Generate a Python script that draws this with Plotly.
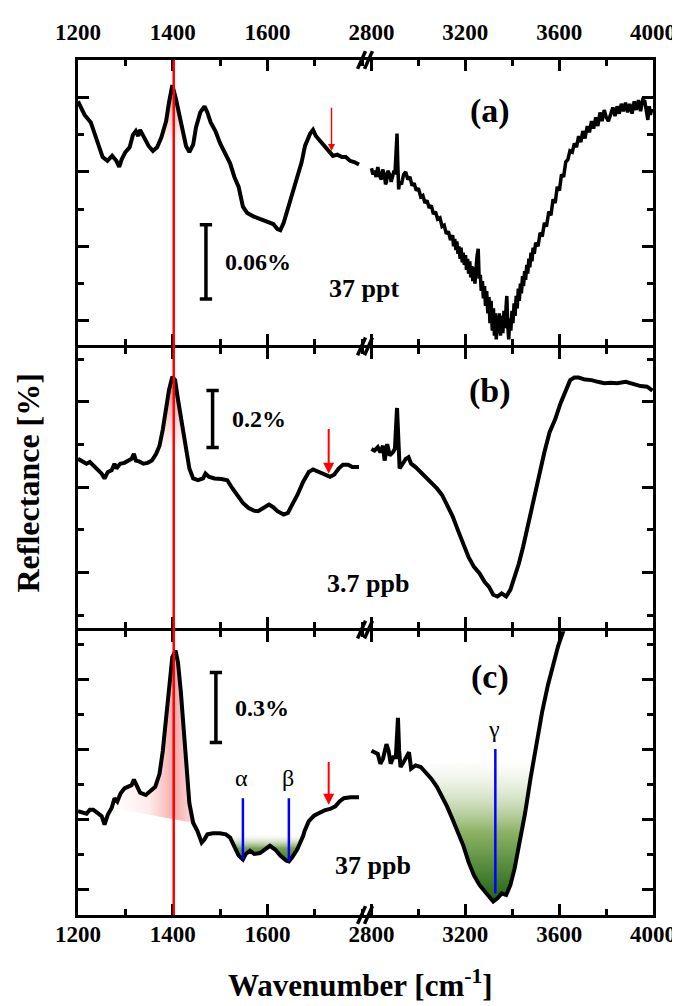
import plotly.graph_objects as go

# ---------------- data (wavenumber in cm-1, relative reflectance in %) ----------------
a_left_wn = [1200, 1214, 1227, 1236, 1245, 1252, 1262, 1272, 1281, 1287, 1292, 1300, 1309, 1316, 1322, 1327,
             1331, 1340, 1349, 1358, 1367, 1376, 1386, 1392, 1399, 1406, 1413, 1422, 1428, 1435, 1443, 1449,
             1458, 1467, 1473, 1480, 1490, 1500, 1512, 1521, 1530, 1539, 1548, 1557, 1571, 1585, 1598, 1612,
             1621, 1627, 1634, 1643, 1652, 1663, 1672, 1679, 1684, 1690, 1696, 1702, 1711, 1720, 1729, 1738,
             1747, 1757, 1765, 1774, 1783, 1793]
a_left_r = [0.177, 0.166, 0.160, 0.150, 0.139, 0.132, 0.129, 0.133, 0.129, 0.124, 0.130, 0.136, 0.140, 0.150,
            0.153, 0.149, 0.154, 0.148, 0.141, 0.137, 0.140, 0.148, 0.161, 0.176, 0.190, 0.180, 0.168, 0.153,
            0.141, 0.136, 0.142, 0.156, 0.168, 0.173, 0.168, 0.160, 0.153, 0.143, 0.133, 0.127, 0.116, 0.108,
            0.092, 0.087, 0.084, 0.082, 0.080, 0.078, 0.074, 0.073, 0.079, 0.090, 0.103, 0.116, 0.128, 0.141,
            0.146, 0.151, 0.154, 0.149, 0.145, 0.141, 0.136, 0.133, 0.134, 0.132, 0.132, 0.129, 0.128, 0.126]

a_right_wn = [2800, 2806, 2813, 2820, 2827, 2834, 2842, 2848, 2855, 2860,
              2864, 2870, 2878, 2884, 2891, 2896, 2900, 2905, 2909, 2912,
              2916, 2920, 2928, 2937, 2946, 2955, 2964, 2973, 2982, 2991,
              3000, 3010, 3019, 3028, 3037, 3046, 3055, 3064, 3073, 3082,
              3092, 3101, 3110, 3119, 3128, 3137, 3146, 3150, 3155, 3160,
              3164, 3169, 3173, 3178, 3182, 3187, 3191, 3196, 3201, 3205,
              3210, 3214, 3219, 3223, 3228, 3232, 3237, 3241, 3245, 3250,
              3255, 3259, 3264, 3268, 3273, 3277, 3282, 3286, 3291, 3296,
              3301, 3305, 3310, 3315, 3320, 3324, 3328, 3332, 3336, 3341,
              3345, 3350, 3355, 3360, 3365, 3370, 3374, 3377, 3381, 3385,
              3390, 3394, 3399, 3403, 3408, 3412, 3417, 3421, 3426, 3430,
              3435, 3439, 3444, 3448, 3453, 3457, 3462, 3466, 3471, 3475,
              3480, 3484, 3489, 3494, 3500, 3510, 3519, 3528, 3537, 3546,
              3556, 3565, 3574, 3583, 3592, 3601, 3610, 3619, 3628, 3637,
              3646, 3656, 3665, 3674, 3683, 3692, 3701, 3710, 3720, 3729,
              3738, 3747, 3756, 3765, 3774, 3783, 3792, 3801, 3810, 3820,
              3829, 3838, 3847, 3856, 3865, 3874, 3883, 3892, 3901, 3911,
              3920, 3929, 3938, 3947, 3956, 3965, 3972, 3978, 3984, 3989,
              3995]
a_right_r = [0.123, 0.118, 0.121, 0.116, 0.124, 0.117, 0.114, 0.122, 0.118, 0.110,
             0.112, 0.121, 0.118, 0.112, 0.117, 0.121, 0.118, 0.135, 0.151, 0.128,
             0.106, 0.112, 0.110, 0.118, 0.120, 0.114, 0.116, 0.109, 0.111, 0.105,
             0.107, 0.100, 0.101, 0.095, 0.097, 0.091, 0.093, 0.086, 0.088, 0.082,
             0.083, 0.076, 0.077, 0.070, 0.072, 0.065, 0.069, 0.060, 0.066, 0.057,
             0.064, 0.054, 0.060, 0.050, 0.059, 0.047, 0.055, 0.045, 0.053, 0.041,
             0.050, 0.038, 0.048, 0.035, 0.044, 0.032, 0.043, 0.030, 0.041, 0.052,
             0.058, 0.034, 0.037, 0.024, 0.032, 0.018, 0.028, 0.012, 0.024, 0.006,
             0.019, -0.002, 0.016, -0.008, 0.010, -0.012, 0.006, -0.015, 0.004, -0.010,
             0.006, -0.012, 0.004, -0.010, 0.008, -0.006, 0.012, 0.020, -0.004, -0.015,
             0.002, -0.008, 0.008, -0.002, 0.014, 0.004, 0.020, 0.010, 0.026, 0.016,
             0.030, 0.022, 0.036, 0.028, 0.040, 0.033, 0.045, 0.038, 0.050, 0.043,
             0.055, 0.048, 0.059, 0.054, 0.063, 0.060, 0.071, 0.068, 0.079, 0.076,
             0.088, 0.085, 0.098, 0.095, 0.108, 0.105, 0.118, 0.116, 0.128, 0.130,
             0.137, 0.136, 0.143, 0.140, 0.149, 0.144, 0.153, 0.147, 0.157, 0.152,
             0.161, 0.155, 0.164, 0.157, 0.168, 0.161, 0.170, 0.164, 0.161, 0.167,
             0.172, 0.165, 0.173, 0.167, 0.175, 0.169, 0.176, 0.168, 0.175, 0.167,
             0.177, 0.170, 0.178, 0.169, 0.178, 0.177, 0.168, 0.162, 0.173, 0.166,
             0.171]

b_left_wn = [1200, 1209, 1218, 1225, 1232, 1241, 1250, 1256, 1263, 1271, 1277, 1281, 1289, 1298, 1307, 1313,
             1318, 1322, 1329, 1338, 1347, 1356, 1365, 1372, 1379, 1386, 1392, 1399, 1405, 1410, 1417, 1425,
             1430, 1435, 1443, 1453, 1464, 1469, 1476, 1488, 1503, 1515, 1526, 1537, 1548, 1560, 1571, 1580,
             1591, 1603, 1612, 1621, 1634, 1643, 1652, 1663, 1675, 1687, 1696, 1706, 1720, 1732, 1741, 1750,
             1759, 1770, 1779, 1793]
b_left_r = [0.400, 0.391, 0.383, 0.389, 0.377, 0.366, 0.348, 0.331, 0.354, 0.360, 0.383, 0.366, 0.383, 0.386,
            0.394, 0.400, 0.418, 0.394, 0.391, 0.383, 0.386, 0.394, 0.418, 0.446, 0.504, 0.573, 0.642, 0.689,
            0.677, 0.619, 0.550, 0.481, 0.429, 0.366, 0.331, 0.325, 0.331, 0.348, 0.337, 0.331, 0.329, 0.325,
            0.296, 0.273, 0.245, 0.227, 0.218, 0.216, 0.227, 0.239, 0.230, 0.216, 0.204, 0.210, 0.239, 0.273,
            0.319, 0.354, 0.363, 0.356, 0.345, 0.337, 0.345, 0.366, 0.379, 0.379, 0.371, 0.371]

b_right_wn = [2800, 2813, 2827, 2838, 2849, 2856, 2867, 2878, 2891, 2900, 2909, 2915, 2920, 2933, 2946, 2958,
              2969, 2988, 3010, 3031, 3055, 3079, 3101, 3122, 3146, 3170, 3192, 3214, 3237, 3261, 3282, 3301,
              3319, 3337, 3355, 3374, 3392, 3410, 3428, 3446, 3468, 3492, 3516, 3537, 3559, 3583, 3606, 3628,
              3647, 3665, 3683, 3710, 3738, 3765, 3792, 3820, 3847, 3884, 3920, 3947, 3975, 3989, 3998]
b_right_r = [0.435, 0.429, 0.441, 0.423, 0.446, 0.394, 0.452, 0.412, 0.423, 0.435, 0.579, 0.481, 0.366, 0.383,
             0.400, 0.406, 0.383, 0.371, 0.354, 0.337, 0.319, 0.296, 0.273, 0.239, 0.198, 0.146, 0.100, 0.054,
             0.020, -0.003, -0.032, -0.050, -0.078, -0.084, -0.073, -0.084, -0.061, -0.015, 0.031, 0.089,
             0.170, 0.262, 0.354, 0.423, 0.493, 0.539, 0.596, 0.642, 0.677, 0.686, 0.686, 0.679, 0.677, 0.671,
             0.666, 0.668, 0.666, 0.671, 0.663, 0.656, 0.654, 0.645, 0.640]

c_left_wn = [1200, 1211, 1218, 1225, 1232, 1241, 1250, 1256, 1263, 1271, 1277, 1283, 1290, 1298, 1307, 1313,
             1318, 1323, 1331, 1343, 1352, 1363, 1372, 1379, 1386, 1393, 1399, 1406, 1411, 1417, 1424, 1430,
             1435, 1443, 1452, 1461, 1467, 1473, 1485, 1499, 1512, 1521, 1530, 1539, 1548, 1554, 1563, 1572,
             1584, 1596, 1605, 1616, 1627, 1639, 1645, 1652, 1663, 1675, 1678, 1687, 1698, 1709, 1720, 1732,
             1743, 1752, 1761, 1775, 1793]
c_left_r = [0.335, 0.328, 0.325, 0.342, 0.342, 0.328, 0.314, 0.278, 0.321, 0.349, 0.391, 0.377, 0.412, 0.433,
            0.440, 0.447, 0.471, 0.447, 0.415, 0.405, 0.419, 0.440, 0.496, 0.595, 0.736, 0.876, 0.996, 1.024,
            0.973, 0.848, 0.665, 0.496, 0.370, 0.286, 0.250, 0.201, 0.215, 0.236, 0.241, 0.241, 0.236, 0.222,
            0.187, 0.145, 0.128, 0.152, 0.166, 0.152, 0.156, 0.176, 0.187, 0.171, 0.145, 0.124, 0.120, 0.138,
            0.173, 0.229, 0.250, 0.293, 0.316, 0.328, 0.339, 0.345, 0.356, 0.377, 0.391, 0.395, 0.395]

c_right_wn = [2800, 2813, 2827, 2838, 2849, 2864, 2873, 2882, 2893, 2904, 2913, 2918, 2924, 2937, 2951, 2960,
              2969, 2988, 3010, 3031, 3055, 3079, 3101, 3122, 3146, 3170, 3192, 3214, 3237, 3261, 3282, 3301,
              3319, 3337, 3355, 3374, 3392, 3410, 3432, 3455, 3479, 3494, 3505, 3528, 3552, 3574, 3596, 3620,
              3635]
c_right_r = [0.595, 0.588, 0.581, 0.539, 0.560, 0.623, 0.595, 0.539, 0.567, 0.567, 0.736, 0.595, 0.525, 0.546,
             0.567, 0.588, 0.518, 0.532, 0.525, 0.504, 0.475, 0.440, 0.398, 0.356, 0.300, 0.243, 0.187, 0.117,
             0.060, 0.018, -0.007, -0.024, -0.052, -0.038, -0.017, -0.024, 0.018, 0.089, 0.201, 0.328, 0.482,
             0.571, 0.637, 0.764, 0.876, 0.961, 1.045, 1.115, 1.16]

panel_tags = ["(a)", "(b)", "(c)"]
concentrations = ["37 ppt", "3.7 ppb", "37 ppb"]
scalebar_wn = [1470, 1484, 1491]
scalebar_lo = [0.0175, 0.44, 0.63]
scalebar_hi = [0.0775, 0.64, 0.93]
scalebar_labels = ["0.06%", "0.2%", "0.3%"]
arrow_wn = [1735, 1729, 1729]
arrow_tail = [0.173, 0.510, 0.553]
arrow_head = [0.137, 0.348, 0.363]
mode_labels = ["α", "β", "γ"]
mode_wn = [1548, 1645, 3328]
mode_top = [0.391, 0.391, 0.602]
mode_bottom = [0.128, 0.120, -0.017]
reference_line_wn = 1402

left_ticks = [1200, 1400, 1600]
right_ticks = [2800, 3200, 3600, 4000]

# ---------------- layout geometry ----------------
W, H = 680, 1006
ML, MR, MT, MB = 70, 30, 38, 99
PH = H - MT - MB
FONT = "Liberation Serif"

y_domains = [[0.66686, 1.0], [0.33544, 0.66341], [0.0, 0.33199]]
y_ranges = [[-0.01944, 0.21032], [-0.19550, 0.79066], [-0.10970, 1.10759]]
y_major = [0.06, 0.3, 0.3]
x_left_range = [1200, 1806.7]
x_right_range = [2774.6, 4000]

left_data = [(a_left_wn, a_left_r), (b_left_wn, b_left_r), (c_left_wn, c_left_r)]
right_data = [(a_right_wn, a_right_r), (b_right_wn, b_right_r), (c_right_wn, c_right_r)]

fig = go.Figure()


def ax_names(p):
    xl = "x" if p == 0 else f"x{2 * p + 1}"
    xr = f"x{2 * p + 2}"
    yl = "y" if p == 0 else f"y{2 * p + 1}"
    yr = f"y{2 * p + 2}"
    return xl, xr, yl, yr


def seg(wn, r, lo, hi):
    pts = [(w, v) for w, v in zip(wn, r) if lo <= w <= hi]
    return [q[0] for q in pts], [q[1] for q in pts]


tickfont = dict(family=FONT, size=23, color="black", weight="bold")

for p in range(3):
    xl, xr, yl, yr = ax_names(p)
    # ---- fills ----
    wn, r = left_data[p]
    if p < 2:
        fx, fy = seg(wn, r, 1365 if p else 1376, 1430)
        fig.add_trace(go.Scatter(x=fx, y=fy, xaxis=xl, yaxis=yl, mode="lines", fill="toself",
                                 line=dict(width=0), hoverinfo="skip",
                                 fillgradient=dict(type="vertical",
                                                   colorscale=[[0, "rgba(255,215,215,0.1)"],
                                                               [0.5, "rgba(248,150,150,0.5)"],
                                                               [1, "rgba(235,70,70,0.8)"]])))
    else:
        fx, fy = seg(wn, r, 1271, 1443)
        fig.add_trace(go.Scatter(x=fx, y=fy, xaxis=xl, yaxis=yl, mode="lines", fill="toself",
                                 line=dict(width=0), hoverinfo="skip",
                                 fillgradient=dict(type="horizontal", start=1268, stop=1445,
                                                   colorscale=[[0, "rgba(255,225,225,0)"],
                                                               [0.45, "rgba(252,215,215,0.5)"],
                                                               [0.75, "rgba(242,130,130,0.7)"],
                                                               [1, "rgba(248,185,185,0.5)"]])))
        gx, gy = seg(wn, r, 1499, 1678)
        fig.add_trace(go.Scatter(x=gx, y=gy, xaxis=xl, yaxis=yl, mode="lines", fill="toself",
                                 line=dict(width=0), hoverinfo="skip",
                                 fillgradient=dict(type="vertical", start=0.12, stop=0.25,
                                                   colorscale=[[0, "rgb(40,105,25)"],
                                                               [0.55, "rgb(120,160,85)"],
                                                               [1, "rgba(255,255,255,0.2)"]])))
        wr, rr = right_data[p]
        gx, gy = seg(wr, rr, 2988, 3494)
        fig.add_trace(go.Scatter(x=gx, y=gy, xaxis=xr, yaxis=yr, mode="lines", fill="toself",
                                 line=dict(width=0), hoverinfo="skip",
                                 fillgradient=dict(type="vertical", start=-0.05, stop=0.57,
                                                   colorscale=[[0, "rgb(25,95,15)"],
                                                               [0.5, "rgb(140,178,100)"],
                                                               [1, "rgba(255,255,255,0.3)"]])))
    # ---- spectra ----
    fig.add_trace(go.Scatter(x=wn, y=r, xaxis=xl, yaxis=yl, mode="lines",
                             line=dict(color="black", width=4)))
    wr, rr = right_data[p]
    fig.add_trace(go.Scatter(x=wr, y=rr, xaxis=xr, yaxis=yr, mode="lines",
                             line=dict(color="black", width=3.5 if p == 0 else 4)))
    # ---- scale bar ----
    sw, lo, hi = scalebar_wn[p], scalebar_lo[p], scalebar_hi[p]
    fig.add_trace(go.Scatter(x=[sw - 13, sw + 13, None, sw, sw, None, sw - 13, sw + 13],
                             y=[lo, lo, None, lo, hi, None, hi, hi], xaxis=xl, yaxis=yl, mode="lines",
                             line=dict(color="black", width=3.5)))
    fig.add_annotation(x=sw + 36, y=(lo + hi) / 2, xref=xl, yref=yl, text=scalebar_labels[p],
                       showarrow=False, xanchor="left", yanchor="middle",
                       font=dict(family=FONT, size=24, color="black", weight="bold"))
    # ---- panel tag ----
    tag_y = [0.169, 0.637, 0.911][p]
    fig.add_annotation(x=3305, y=tag_y, xref=xr, yref=yr, text=panel_tags[p], showarrow=False,
                       xanchor="center", yanchor="middle",
                       font=dict(family=FONT, size=34, color="black", weight="bold"))
    # ---- concentration ----
    if p == 0:
        fig.add_annotation(x=1804, y=0.026, xref=xl, yref=yl, text=concentrations[p], showarrow=False,
                           xanchor="center", yanchor="middle",
                           font=dict(family=FONT, size=26, color="black", weight="bold"))
    else:
        cx, cy = [(2787, -0.038), (2808, 0.101)][p - 1]
        fig.add_annotation(x=cx, y=cy, xref=xr, yref=yr, text=concentrations[p], showarrow=False,
                           xanchor="center", yanchor="middle",
                           font=dict(family=FONT, size=26, color="black", weight="bold"))
    # ---- red arrow ----
    fig.add_annotation(x=arrow_wn[p], y=arrow_head[p], ax=arrow_wn[p], ay=arrow_tail[p],
                       xref=xl, yref=yl, axref=xl, ayref=yl, text="", showarrow=True,
                       arrowhead=2, arrowsize=1.0 if p == 0 else 1.1, arrowwidth=1.4 if p == 0 else 2,
                       arrowcolor="red")

    # ---- axes ----
    dom_y = y_domains[p]
    side = "top" if p == 0 else "bottom"
    show_lab = p != 1
    common_x = dict(showline=True, linecolor="black", linewidth=3, mirror="ticks", ticks="inside",
                    ticklen=11, tickwidth=3, tickcolor="black", showgrid=False, zeroline=False,
                    side=side, showticklabels=show_lab, tickfont=tickfont,
                    ticklabelstandoff=8 if p == 0 else -4)
    fig.update_layout(**{
        ("xaxis" if p == 0 else f"xaxis{2 * p + 1}"): dict(
            common_x, domain=[0, 0.5], range=x_left_range, anchor=yl, tickvals=left_ticks,
            minor=dict(ticks="inside", ticklen=6, tickwidth=3, tickcolor="black", dtick=100, tick0=1200)),
        f"xaxis{2 * p + 2}": dict(
            common_x, domain=[0.5, 1], range=x_right_range, anchor=yr, tickvals=right_ticks,
            minor=dict(ticks="inside", ticklen=6, tickwidth=3, tickcolor="black", dtick=200, tick0=2800)),
        ("yaxis" if p == 0 else f"yaxis{2 * p + 1}"): dict(
            domain=dom_y, range=y_ranges[p], anchor=xl, side="left", showline=True, linecolor="black",
            linewidth=3, ticks="inside", ticklen=11, tickwidth=3, tickcolor="black", tick0=0,
            dtick=y_major[p], showticklabels=False, showgrid=False, zeroline=False,
            minor=dict(ticks="inside", ticklen=6, tickwidth=3, tickcolor="black", dtick=y_major[p] / 2)),
        f"yaxis{2 * p + 2}": dict(
            domain=dom_y, range=y_ranges[p], anchor=xr, side="right", showline=True, linecolor="black",
            linewidth=3, ticks="inside", ticklen=11, tickwidth=3, tickcolor="black", tick0=0,
            dtick=y_major[p], showticklabels=False, showgrid=False, zeroline=False,
            minor=dict(ticks="inside", ticklen=6, tickwidth=3, tickcolor="black", dtick=y_major[p] / 2)),
    })

# ---- blue mode markers (panel c) ----
for i in range(3):
    xa = "x5" if i < 2 else "x6"
    ya = "y5" if i < 2 else "y6"
    fig.add_trace(go.Scatter(x=[mode_wn[i], mode_wn[i]], y=[mode_bottom[i], mode_top[i]], xaxis=xa,
                             yaxis=ya, mode="lines", line=dict(color="#0000ff", width=2.5)))
    fig.add_annotation(x=mode_wn[i] - (2 if i < 2 else 6), y=mode_top[i] + (0.085 if i < 2 else 0.086),
                       xref=xa, yref=ya, text=mode_labels[i], showarrow=False,
                       xanchor="center", yanchor="middle",
                       font=dict(family=FONT, size=24, color="black"))

# ---- red reference line across all panels ----
fig.add_shape(type="line", xref="x", yref="paper", x0=reference_line_wn, x1=reference_line_wn, y0=0, y1=1,
              line=dict(color="red", width=2.5))

# ---- axis break marks ----
for ypx in [38, 329, 617, 907]:
    for dx in [0, 7]:
        x0 = (352 + dx - ML) / (W - ML - MR)
        x1 = (360 + dx - ML) / (W - ML - MR)
        y0 = (H - MB - (ypx + 9)) / PH
        y1 = (H - MB - (ypx - 9)) / PH
        fig.add_shape(type="line", xref="paper", yref="paper", x0=x0, x1=x1, y0=y0, y1=y1,
                      line=dict(color="black", width=3.5))

# ---- axis titles ----
fig.add_annotation(xref="paper", yref="paper", x=(355 - ML) / (W - ML - MR), y=(H - MB - 977) / PH,
                   xanchor="center", yanchor="middle",
                   text="Wavenumber [cm<sup>-1</sup>]", showarrow=False,
                   font=dict(family=FONT, size=31, color="black", weight="bold"))
fig.add_annotation(xref="paper", yref="paper", x=(20 - ML) / (W - ML - MR), y=(H - MB - 468) / PH,
                   xanchor="center", yanchor="middle",
                   text="Reflectance [%]", showarrow=False, textangle=-90,
                   font=dict(family=FONT, size=32, color="black", weight="bold"))

fig.update_layout(width=W, height=H, margin=dict(l=ML, r=MR, t=MT, b=MB, pad=0), showlegend=False,
                  paper_bgcolor="white", plot_bgcolor="white")

fig.write_html("out.html")
